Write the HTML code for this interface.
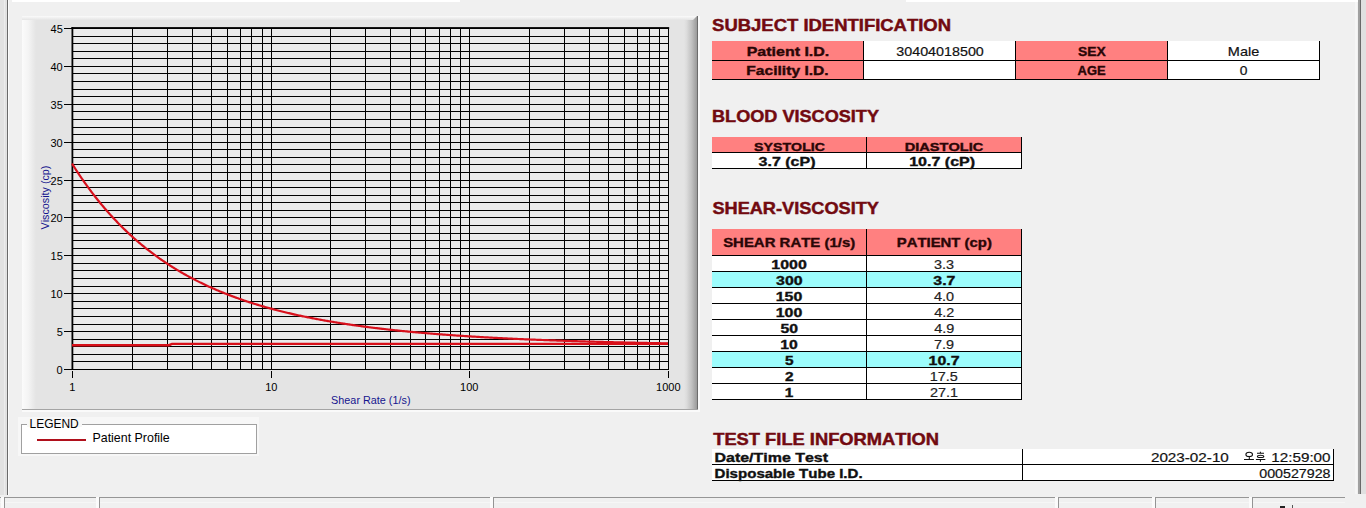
<!DOCTYPE html>
<html><head><meta charset="utf-8"><style>
html,body{margin:0;padding:0;width:1366px;height:508px;overflow:hidden;background:#f0f0f0}
svg{display:block}
text{font-family:"Liberation Sans",sans-serif;font-kerning:none;white-space:pre}
</style></head><body>
<svg width="1366" height="508" viewBox="0 0 1366 508">
<rect x="0" y="0" width="1366" height="508" fill="#f0f0f0" />
<rect x="0" y="0" width="7" height="495" fill="#e2e2e2" />
<rect x="4" y="0" width="1" height="495" fill="#ececec" />
<rect x="7" y="0" width="1" height="495" fill="#6a6a6a" />
<rect x="8" y="0" width="1" height="495" fill="#fcfcfc" />
<rect x="1355" y="0" width="2" height="494" fill="#f6f6f6" />
<rect x="1358" y="0" width="2" height="494" fill="#a0a0a0" />
<rect x="1360" y="0" width="1" height="494" fill="#696969" />
<rect x="1361" y="0" width="5" height="494" fill="#e0e0e0" />
<rect x="12" y="0" width="448" height="2" fill="#ffffff" />
<rect x="906" y="0" width="452" height="2" fill="#ffffff" />
<rect x="0" y="497" width="1366" height="11" fill="#f0f0f0" />
<rect x="0" y="497" width="1345" height="1" fill="#969696" />
<rect x="0" y="502" width="1345" height="1" fill="#f6f6f6" />
<rect x="1" y="497" width="3" height="11" fill="#fbfbfb" />
<rect x="4" y="497" width="1" height="11" fill="#949494" />
<rect x="96" y="497" width="3" height="11" fill="#fbfbfb" />
<rect x="99" y="497" width="1" height="11" fill="#949494" />
<rect x="490" y="497" width="3" height="11" fill="#fbfbfb" />
<rect x="493" y="497" width="1" height="11" fill="#949494" />
<rect x="1055" y="497" width="3" height="11" fill="#fbfbfb" />
<rect x="1058" y="497" width="1" height="11" fill="#949494" />
<rect x="1152" y="497" width="3" height="11" fill="#fbfbfb" />
<rect x="1155" y="497" width="1" height="11" fill="#949494" />
<rect x="1249" y="497" width="3" height="11" fill="#fbfbfb" />
<rect x="1252" y="497" width="1" height="11" fill="#949494" />
<rect x="22" y="16" width="676" height="394" fill="#e4e4e4" />
<defs><linearGradient id="gl" x1="0" x2="1"><stop offset="0" stop-color="#fbfbfb"/><stop offset="0.45" stop-color="#f4f4f4"/><stop offset="1" stop-color="#e4e4e4"/></linearGradient><linearGradient id="gr" x1="0" x2="1"><stop offset="0" stop-color="#e4e4e4"/><stop offset="0.2" stop-color="#dcdcdc"/><stop offset="0.6" stop-color="#c0c0c0"/><stop offset="1" stop-color="#9a9a9a"/></linearGradient><linearGradient id="gt" x1="0" x2="0" y1="0" y2="1"><stop offset="0" stop-color="#fafafa"/><stop offset="1" stop-color="#e4e4e4"/></linearGradient></defs>
<rect x="22" y="16" width="14" height="394" fill="url(#gl)" />
<rect x="684" y="16" width="13" height="394" fill="url(#gr)" />
<rect x="697" y="16" width="1" height="394" fill="#6c6c6c" />
<polygon points="22,16 697,16 693,20 22,20" fill="url(#gt)"/>
<rect x="22" y="409" width="676" height="1" fill="#a4a4a4" />
<rect x="698" y="16" width="2" height="396" fill="#fafafa" />
<rect x="22" y="410" width="678" height="2" fill="#fafafa" />
<rect x="72" y="28" width="596" height="341" fill="#eaeaea" />
<g fill="#000"><rect x="72" y="369" width="597" height="1"/><rect x="72" y="361" width="597" height="1"/><rect x="72" y="354" width="597" height="1"/><rect x="72" y="346" width="597" height="1"/><rect x="72" y="339" width="597" height="1"/><rect x="72" y="331" width="597" height="1"/><rect x="72" y="324" width="597" height="1"/><rect x="72" y="316" width="597" height="1"/><rect x="72" y="308" width="597" height="1"/><rect x="72" y="301" width="597" height="1"/><rect x="72" y="293" width="597" height="1"/><rect x="72" y="286" width="597" height="1"/><rect x="72" y="278" width="597" height="1"/><rect x="72" y="270" width="597" height="1"/><rect x="72" y="263" width="597" height="1"/><rect x="72" y="255" width="597" height="1"/><rect x="72" y="248" width="597" height="1"/><rect x="72" y="240" width="597" height="1"/><rect x="72" y="233" width="597" height="1"/><rect x="72" y="225" width="597" height="1"/><rect x="72" y="217" width="597" height="1"/><rect x="72" y="210" width="597" height="1"/><rect x="72" y="202" width="597" height="1"/><rect x="72" y="195" width="597" height="1"/><rect x="72" y="187" width="597" height="1"/><rect x="72" y="180" width="597" height="1"/><rect x="72" y="172" width="597" height="1"/><rect x="72" y="164" width="597" height="1"/><rect x="72" y="157" width="597" height="1"/><rect x="72" y="149" width="597" height="1"/><rect x="72" y="142" width="597" height="1"/><rect x="72" y="134" width="597" height="1"/><rect x="72" y="127" width="597" height="1"/><rect x="72" y="119" width="597" height="1"/><rect x="72" y="111" width="597" height="1"/><rect x="72" y="104" width="597" height="1"/><rect x="72" y="96" width="597" height="1"/><rect x="72" y="89" width="597" height="1"/><rect x="72" y="81" width="597" height="1"/><rect x="72" y="73" width="597" height="1"/><rect x="72" y="66" width="597" height="1"/><rect x="72" y="58" width="597" height="1"/><rect x="72" y="51" width="597" height="1"/><rect x="72" y="43" width="597" height="1"/><rect x="72" y="36" width="597" height="1"/><rect x="72" y="28" width="597" height="1"/><rect x="72" y="28" width="1" height="342"/><rect x="132" y="28" width="1" height="342"/><rect x="167" y="28" width="1" height="342"/><rect x="192" y="28" width="1" height="342"/><rect x="211" y="28" width="1" height="342"/><rect x="227" y="28" width="1" height="342"/><rect x="240" y="28" width="1" height="342"/><rect x="251" y="28" width="1" height="342"/><rect x="262" y="28" width="1" height="342"/><rect x="271" y="28" width="1" height="342"/><rect x="330" y="28" width="1" height="342"/><rect x="365" y="28" width="1" height="342"/><rect x="390" y="28" width="1" height="342"/><rect x="410" y="28" width="1" height="342"/><rect x="425" y="28" width="1" height="342"/><rect x="439" y="28" width="1" height="342"/><rect x="450" y="28" width="1" height="342"/><rect x="460" y="28" width="1" height="342"/><rect x="469" y="28" width="1" height="342"/><rect x="529" y="28" width="1" height="342"/><rect x="564" y="28" width="1" height="342"/><rect x="589" y="28" width="1" height="342"/><rect x="608" y="28" width="1" height="342"/><rect x="624" y="28" width="1" height="342"/><rect x="637" y="28" width="1" height="342"/><rect x="649" y="28" width="1" height="342"/><rect x="659" y="28" width="1" height="342"/><rect x="668" y="28" width="1" height="342"/><rect x="71.5" y="27" width="1.8" height="343"/><rect x="71.5" y="27.1" width="597.7" height="1.8"/><rect x="64" y="369" width="8" height="1"/><rect x="64" y="331" width="8" height="1"/><rect x="64" y="293" width="8" height="1"/><rect x="64" y="255" width="8" height="1"/><rect x="64" y="217" width="8" height="1"/><rect x="64" y="180" width="8" height="1"/><rect x="64" y="142" width="8" height="1"/><rect x="64" y="104" width="8" height="1"/><rect x="64" y="66" width="8" height="1"/><rect x="64" y="28" width="8" height="1"/><rect x="72" y="371" width="1" height="7"/><rect x="271" y="371" width="1" height="7"/><rect x="469" y="371" width="1" height="7"/><rect x="668" y="371" width="1" height="7"/></g>
<polyline points="72.0,163.54 73.0,165.13 74.0,166.70 75.0,168.26 76.0,169.80 77.0,171.33 78.0,172.84 79.0,174.34 80.0,175.83 81.0,177.30 82.0,178.75 83.0,180.20 84.0,181.62 85.0,183.04 86.0,184.44 87.0,185.83 88.0,187.20 89.0,188.56 90.0,189.91 91.0,191.25 92.0,192.57 93.0,193.88 94.0,195.18 95.0,196.47 96.0,197.74 97.0,199.00 98.0,200.25 99.0,201.49 100.0,202.71 101.0,203.93 102.0,205.13 103.0,206.32 104.0,207.50 105.0,208.67 106.0,209.83 107.0,210.98 108.0,212.11 109.0,213.24 110.0,214.36 111.0,215.46 112.0,216.56 113.0,217.64 114.0,218.71 115.0,219.78 116.0,220.83 117.0,221.88 118.0,222.91 119.0,223.94 120.0,224.95 121.0,225.96 122.0,226.96 123.0,227.95 124.0,228.92 125.0,229.89 126.0,230.85 127.0,231.81 128.0,232.75 129.0,233.68 130.0,234.61 131.0,235.53 132.0,236.43 133.0,237.33 134.0,238.23 135.0,239.11 136.0,239.99 137.0,240.85 138.0,241.71 139.0,242.57 140.0,243.41 141.0,244.25 142.0,245.08 143.0,245.90 144.0,246.71 145.0,247.52 146.0,248.32 147.0,249.11 148.0,249.89 149.0,250.67 150.0,251.44 151.0,252.21 152.0,252.96 153.0,253.71 154.0,254.46 155.0,255.19 156.0,255.92 157.0,256.64 158.0,257.36 159.0,258.07 160.0,258.78 161.0,259.47 162.0,260.17 163.0,260.85 164.0,261.53 165.0,262.20 166.0,262.87 167.0,263.53 168.0,264.19 169.0,264.84 170.0,265.48 171.0,266.12 172.0,266.75 173.0,267.38 174.0,268.00 175.0,268.61 176.0,269.22 177.0,269.83 178.0,270.43 179.0,271.02 180.0,271.61 181.0,272.19 182.0,272.77 183.0,273.35 184.0,273.92 185.0,274.48 186.0,275.04 187.0,275.59 188.0,276.14 189.0,276.68 190.0,277.22 191.0,277.76 192.0,278.29 193.0,278.81 194.0,279.33 195.0,279.85 196.0,280.36 197.0,280.87 198.0,281.37 199.0,281.87 200.0,282.37 201.0,282.86 202.0,283.34 203.0,283.82 204.0,284.30 205.0,284.78 206.0,285.25 207.0,285.71 208.0,286.17 209.0,286.63 210.0,287.08 211.0,287.53 212.0,287.98 213.0,288.42 214.0,288.86 215.0,289.29 216.0,289.72 217.0,290.15 218.0,290.57 219.0,290.99 220.0,291.41 221.0,291.82 222.0,292.23 223.0,292.64 224.0,293.04 225.0,293.44 226.0,293.84 227.0,294.23 228.0,294.62 229.0,295.00 230.0,295.39 231.0,295.77 232.0,296.14 233.0,296.52 234.0,296.89 235.0,297.25 236.0,297.62 237.0,297.98 238.0,298.34 239.0,298.69 240.0,299.04 241.0,299.39 242.0,299.74 243.0,300.08 244.0,300.42 245.0,300.76 246.0,301.09 247.0,301.43 248.0,301.76 249.0,302.08 250.0,302.41 251.0,302.73 252.0,303.05 253.0,303.36 254.0,303.68 255.0,303.99 256.0,304.29 257.0,304.60 258.0,304.90 259.0,305.20 260.0,305.50 261.0,305.80 262.0,306.09 263.0,306.38 264.0,306.67 265.0,306.96 266.0,307.24 267.0,307.52 268.0,307.80 269.0,308.08 270.0,308.36 271.0,308.63 272.0,308.90 273.0,309.17 274.0,309.44 275.0,309.70 276.0,309.96 277.0,310.22 278.0,310.48 279.0,310.74 280.0,310.99 281.0,311.24 282.0,311.49 283.0,311.74 284.0,311.98 285.0,312.23 286.0,312.47 287.0,312.71 288.0,312.95 289.0,313.18 290.0,313.42 291.0,313.65 292.0,313.88 293.0,314.11 294.0,314.34 295.0,314.56 296.0,314.79 297.0,315.01 298.0,315.23 299.0,315.45 300.0,315.66 301.0,315.88 302.0,316.09 303.0,316.30 304.0,316.51 305.0,316.72 306.0,316.93 307.0,317.13 308.0,317.34 309.0,317.54 310.0,317.74 311.0,317.94 312.0,318.13 313.0,318.33 314.0,318.52 315.0,318.72 316.0,318.91 317.0,319.10 318.0,319.29 319.0,319.47 320.0,319.66 321.0,319.84 322.0,320.03 323.0,320.21 324.0,320.39 325.0,320.56 326.0,320.74 327.0,320.92 328.0,321.09 329.0,321.27 330.0,321.44 331.0,321.61 332.0,321.78 333.0,321.94 334.0,322.11 335.0,322.28 336.0,322.44 337.0,322.60 338.0,322.76 339.0,322.93 340.0,323.08 341.0,323.24 342.0,323.40 343.0,323.55 344.0,323.71 345.0,323.86 346.0,324.01 347.0,324.17 348.0,324.32 349.0,324.46 350.0,324.61 351.0,324.76 352.0,324.90 353.0,325.05 354.0,325.19 355.0,325.33 356.0,325.47 357.0,325.61 358.0,325.75 359.0,325.89 360.0,326.03 361.0,326.17 362.0,326.30 363.0,326.43 364.0,326.57 365.0,326.70 366.0,326.83 367.0,326.96 368.0,327.09 369.0,327.22 370.0,327.35 371.0,327.47 372.0,327.60 373.0,327.72 374.0,327.85 375.0,327.97 376.0,328.09 377.0,328.21 378.0,328.33 379.0,328.45 380.0,328.57 381.0,328.69 382.0,328.80 383.0,328.92 384.0,329.03 385.0,329.15 386.0,329.26 387.0,329.37 388.0,329.48 389.0,329.59 390.0,329.70 391.0,329.81 392.0,329.92 393.0,330.03 394.0,330.14 395.0,330.24 396.0,330.35 397.0,330.45 398.0,330.56 399.0,330.66 400.0,330.76 401.0,330.86 402.0,330.97 403.0,331.07 404.0,331.17 405.0,331.26 406.0,331.36 407.0,331.46 408.0,331.56 409.0,331.65 410.0,331.75 411.0,331.84 412.0,331.94 413.0,332.03 414.0,332.12 415.0,332.21 416.0,332.31 417.0,332.40 418.0,332.49 419.0,332.58 420.0,332.66 421.0,332.75 422.0,332.84 423.0,332.93 424.0,333.01 425.0,333.10 426.0,333.18 427.0,333.27 428.0,333.35 429.0,333.44 430.0,333.52 431.0,333.60 432.0,333.68 433.0,333.76 434.0,333.85 435.0,333.93 436.0,334.00 437.0,334.08 438.0,334.16 439.0,334.24 440.0,334.32 441.0,334.39 442.0,334.47 443.0,334.55 444.0,334.62 445.0,334.70 446.0,334.77 447.0,334.84 448.0,334.92 449.0,334.99 450.0,335.06 451.0,335.13 452.0,335.20 453.0,335.27 454.0,335.34 455.0,335.41 456.0,335.48 457.0,335.55 458.0,335.62 459.0,335.69 460.0,335.75 461.0,335.82 462.0,335.89 463.0,335.95 464.0,336.02 465.0,336.08 466.0,336.15 467.0,336.21 468.0,336.28 469.0,336.34 470.0,336.40 471.0,336.47 472.0,336.53 473.0,336.59 474.0,336.65 475.0,336.71 476.0,336.77 477.0,336.83 478.0,336.89 479.0,336.95 480.0,337.01 481.0,337.07 482.0,337.13 483.0,337.18 484.0,337.24 485.0,337.30 486.0,337.35 487.0,337.41 488.0,337.47 489.0,337.52 490.0,337.58 491.0,337.63 492.0,337.68 493.0,337.74 494.0,337.79 495.0,337.85 496.0,337.90 497.0,337.95 498.0,338.00 499.0,338.05 500.0,338.11 501.0,338.16 502.0,338.21 503.0,338.26 504.0,338.31 505.0,338.36 506.0,338.41 507.0,338.46 508.0,338.51 509.0,338.55 510.0,338.60 511.0,338.65 512.0,338.70 513.0,338.74 514.0,338.79 515.0,338.84 516.0,338.88 517.0,338.93 518.0,338.98 519.0,339.02 520.0,339.07 521.0,339.11 522.0,339.16 523.0,339.20 524.0,339.24 525.0,339.29 526.0,339.33 527.0,339.37 528.0,339.42 529.0,339.46 530.0,339.50 531.0,339.54 532.0,339.58 533.0,339.63 534.0,339.67 535.0,339.71 536.0,339.75 537.0,339.79 538.0,339.83 539.0,339.87 540.0,339.91 541.0,339.95 542.0,339.99 543.0,340.02 544.0,340.06 545.0,340.10 546.0,340.14 547.0,340.18 548.0,340.21 549.0,340.25 550.0,340.29 551.0,340.33 552.0,340.36 553.0,340.40 554.0,340.44 555.0,340.47 556.0,340.51 557.0,340.54 558.0,340.58 559.0,340.61 560.0,340.65 561.0,340.68 562.0,340.72 563.0,340.75 564.0,340.78 565.0,340.82 566.0,340.85 567.0,340.88 568.0,340.92 569.0,340.95 570.0,340.98 571.0,341.01 572.0,341.05 573.0,341.08 574.0,341.11 575.0,341.14 576.0,341.17 577.0,341.20 578.0,341.24 579.0,341.27 580.0,341.30 581.0,341.33 582.0,341.36 583.0,341.39 584.0,341.42 585.0,341.45 586.0,341.48 587.0,341.51 588.0,341.53 589.0,341.56 590.0,341.59 591.0,341.62 592.0,341.65 593.0,341.68 594.0,341.71 595.0,341.73 596.0,341.76 597.0,341.79 598.0,341.82 599.0,341.84 600.0,341.87 601.0,341.90 602.0,341.92 603.0,341.95 604.0,341.98 605.0,342.00 606.0,342.03 607.0,342.05 608.0,342.08 609.0,342.10 610.0,342.13 611.0,342.15 612.0,342.18 613.0,342.20 614.0,342.23 615.0,342.25 616.0,342.28 617.0,342.30 618.0,342.33 619.0,342.35 620.0,342.37 621.0,342.40 622.0,342.42 623.0,342.44 624.0,342.47 625.0,342.49 626.0,342.51 627.0,342.54 628.0,342.56 629.0,342.58 630.0,342.60 631.0,342.63 632.0,342.65 633.0,342.67 634.0,342.69 635.0,342.71 636.0,342.73 637.0,342.76 638.0,342.78 639.0,342.80 640.0,342.82 641.0,342.84 642.0,342.86 643.0,342.88 644.0,342.90 645.0,342.92 646.0,342.94 647.0,342.96 648.0,342.98 649.0,343.00 650.0,343.02 651.0,343.04 652.0,343.06 653.0,343.08 654.0,343.10 655.0,343.12 656.0,343.14 657.0,343.16 658.0,343.18 659.0,343.19 660.0,343.21 661.0,343.23 662.0,343.25 663.0,343.27 664.0,343.29 665.0,343.30 666.0,343.32 667.0,343.34 668.0,343.36" fill="none" stroke="#d8101c" stroke-width="2.2" stroke-linejoin="round"/>
<polyline points="72,345.2 169,345.2 172,343.9 668,343.9" fill="none" stroke="#d80f18" stroke-width="2.4"/>
<text transform="translate(56.61,373.60) scale(1.0000,1)" font-weight="normal" font-size="11" fill="#000" >0</text>
<text transform="translate(56.64,335.60) scale(1.0000,1)" font-weight="normal" font-size="11" fill="#000" >5</text>
<text transform="translate(50.49,297.60) scale(1.0000,1)" font-weight="normal" font-size="11" fill="#000" >10</text>
<text transform="translate(50.53,259.60) scale(1.0000,1)" font-weight="normal" font-size="11" fill="#000" >15</text>
<text transform="translate(50.49,221.60) scale(1.0000,1)" font-weight="normal" font-size="11" fill="#000" >20</text>
<text transform="translate(50.53,184.60) scale(1.0000,1)" font-weight="normal" font-size="11" fill="#000" >25</text>
<text transform="translate(50.49,146.60) scale(1.0000,1)" font-weight="normal" font-size="11" fill="#000" >30</text>
<text transform="translate(50.53,108.60) scale(1.0000,1)" font-weight="normal" font-size="11" fill="#000" >35</text>
<text transform="translate(50.49,70.60) scale(1.0000,1)" font-weight="normal" font-size="11" fill="#000" >40</text>
<text transform="translate(50.53,32.60) scale(1.0000,1)" font-weight="normal" font-size="11" fill="#000" >45</text>
<text transform="translate(69.29,391.00) scale(1.0000,1)" font-weight="normal" font-size="11" fill="#000" >1</text>
<text transform="translate(265.18,391.00) scale(1.0000,1)" font-weight="normal" font-size="11" fill="#000" >10</text>
<text transform="translate(460.12,391.00) scale(1.0000,1)" font-weight="normal" font-size="11" fill="#000" >100</text>
<text transform="translate(656.06,391.00) scale(1.0000,1)" font-weight="normal" font-size="11" fill="#000" >1000</text>
<text transform="translate(331.11,403.50) scale(0.9847,1)" font-weight="normal" font-size="11" fill="#14148e" >Shear Rate (1/s)</text>
<text transform="translate(48.6,229.45) rotate(-90) scale(0.9773,1)" font-size="11" fill="#14148e">Viscosity (cp)</text>
<rect x="18" y="417" width="241" height="39" fill="#f7f7f7" />
<rect x="21.5" y="424.5" width="235" height="29" fill="#ffffff" stroke="#a0a0a0" stroke-width="1"/>
<rect x="27" y="422" width="55" height="5" fill="#f7f7f7" />
<text transform="translate(29.52,427.60) scale(0.9214,1)" font-weight="normal" font-size="13" fill="#000" >LEGEND</text>
<rect x="37" y="439" width="49" height="2" fill="#b0101c" />
<text transform="translate(92.48,441.60) scale(0.9560,1)" font-weight="normal" font-size="13" fill="#000" >Patient Profile</text>
<text transform="translate(712.09,31.00) scale(1.1550,1)" font-weight="bold" font-size="16" fill="#720a10" stroke="#720a10" stroke-width="0.45" >SUBJECT IDENTIFICATION</text>
<rect x="712" y="41" width="151" height="38" fill="#ff8080" />
<rect x="864" y="41" width="151" height="38" fill="#fff" />
<rect x="1016" y="41" width="151" height="38" fill="#ff8080" />
<rect x="1168" y="41" width="152" height="38" fill="#fff" />
<rect x="712" y="60" width="608" height="1" fill="#000" />
<rect x="712" y="79" width="608" height="1" fill="#000" />
<rect x="863" y="41" width="1" height="39" fill="#000" />
<rect x="1015" y="41" width="1" height="39" fill="#000" />
<rect x="1167" y="41" width="1" height="39" fill="#000" />
<rect x="1319" y="41" width="1" height="39" fill="#000" />
<text transform="translate(746.70,55.70) scale(1.3340,1)" font-weight="bold" font-size="12" fill="#2a0606" stroke="#2a0606" stroke-width="0.35" >Patient I.D.</text>
<text transform="translate(746.33,74.70) scale(1.3018,1)" font-weight="bold" font-size="12" fill="#2a0606" stroke="#2a0606" stroke-width="0.35" >Facility I.D.</text>
<text transform="translate(896.25,55.70) scale(1.1933,1)" font-weight="normal" font-size="12" fill="#111" stroke="#111" stroke-width="0.18" >30404018500</text>
<text transform="translate(1077.98,55.70) scale(1.1566,1)" font-weight="bold" font-size="12" fill="#2a0606" stroke="#2a0606" stroke-width="0.35" >SEX</text>
<text transform="translate(1077.55,75.00) scale(1.0798,1)" font-weight="bold" font-size="12" fill="#2a0606" stroke="#2a0606" stroke-width="0.35" >AGE</text>
<text transform="translate(1227.81,55.70) scale(1.2085,1)" font-weight="normal" font-size="12" fill="#111" stroke="#111" stroke-width="0.18" >Male</text>
<text transform="translate(1239.86,75.00) scale(1.1506,1)" font-weight="normal" font-size="12" fill="#111" stroke="#111" stroke-width="0.18" >0</text>
<text transform="translate(712.01,122.00) scale(1.1320,1)" font-weight="bold" font-size="16" fill="#720a10" stroke="#720a10" stroke-width="0.45" >BLOOD VISCOSITY</text>
<rect x="712" y="137" width="309" height="15" fill="#ff8080" />
<rect x="712" y="153" width="309" height="15" fill="#fff" />
<rect x="712" y="152" width="310" height="1" fill="#000" />
<rect x="712" y="168" width="310" height="1" fill="#000" />
<rect x="866" y="137" width="1" height="32" fill="#000" />
<rect x="1021" y="137" width="1" height="32" fill="#000" />
<text transform="translate(754.07,150.70) scale(1.2898,1)" font-weight="bold" font-size="11" fill="#2a0606" stroke="#2a0606" stroke-width="0.35" >SYSTOLIC</text>
<text transform="translate(904.70,150.80) scale(1.3282,1)" font-weight="bold" font-size="11" fill="#2a0606" stroke="#2a0606" stroke-width="0.35" >DIASTOLIC</text>
<text transform="translate(758.61,166.40) scale(1.3333,1)" font-weight="bold" font-size="12" fill="#111" stroke="#111" stroke-width="0.35" >3.7 (cP)</text>
<text transform="translate(909.16,166.40) scale(1.3384,1)" font-weight="bold" font-size="12" fill="#111" stroke="#111" stroke-width="0.35" >10.7 (cP)</text>
<text transform="translate(712.40,214.00) scale(1.1362,1)" font-weight="bold" font-size="16" fill="#720a10" stroke="#720a10" stroke-width="0.45" >SHEAR-VISCOSITY</text>
<rect x="712" y="229" width="309" height="26" fill="#ff8080" />
<rect x="712" y="255" width="310" height="1" fill="#000" />
<rect x="866" y="229" width="1" height="171" fill="#000" />
<rect x="1021" y="229" width="1" height="171" fill="#000" />
<text transform="translate(723.14,247.00) scale(1.2473,1)" font-weight="bold" font-size="12" fill="#2a0606" stroke="#2a0606" stroke-width="0.35" >SHEAR RATE (1/s)</text>
<text transform="translate(896.78,246.80) scale(1.2416,1)" font-weight="bold" font-size="12" fill="#2a0606" stroke="#2a0606" stroke-width="0.35" >PATIENT (cp)</text>
<rect x="712" y="256" width="309" height="15" fill="#fff" />
<rect x="867" y="256" width="154" height="15" fill="#fff" />
<rect x="712" y="271" width="310" height="1" fill="#000" />
<rect x="866" y="256" width="1" height="16" fill="#000" />
<text transform="translate(771.27,268.80) scale(1.3302,1)" font-weight="bold" font-size="12" fill="#111" stroke="#111" stroke-width="0.35" >1000</text>
<text transform="translate(934.00,268.80) scale(1.2040,1)" font-weight="normal" font-size="12" fill="#222" stroke="#222" stroke-width="0.18" >3.3</text>
<rect x="712" y="272" width="309" height="15" fill="#9cfcfc" />
<rect x="867" y="272" width="154" height="15" fill="#9cfcfc" />
<rect x="712" y="287" width="310" height="1" fill="#000" />
<rect x="866" y="272" width="1" height="16" fill="#000" />
<text transform="translate(776.07,284.80) scale(1.3258,1)" font-weight="bold" font-size="12" fill="#111" stroke="#111" stroke-width="0.35" >300</text>
<text transform="translate(933.34,284.80) scale(1.3219,1)" font-weight="bold" font-size="12" fill="#111" stroke="#111" stroke-width="0.35" >3.7</text>
<rect x="712" y="288" width="309" height="15" fill="#fff" />
<rect x="867" y="288" width="154" height="15" fill="#fff" />
<rect x="712" y="303" width="310" height="1" fill="#000" />
<rect x="866" y="288" width="1" height="16" fill="#000" />
<text transform="translate(775.76,300.80) scale(1.3253,1)" font-weight="bold" font-size="12" fill="#111" stroke="#111" stroke-width="0.35" >150</text>
<text transform="translate(934.07,300.80) scale(1.2040,1)" font-weight="normal" font-size="12" fill="#222" stroke="#222" stroke-width="0.18" >4.0</text>
<rect x="712" y="304" width="309" height="15" fill="#fff" />
<rect x="867" y="304" width="154" height="15" fill="#fff" />
<rect x="712" y="319" width="310" height="1" fill="#000" />
<rect x="866" y="304" width="1" height="16" fill="#000" />
<text transform="translate(775.76,316.80) scale(1.3253,1)" font-weight="bold" font-size="12" fill="#111" stroke="#111" stroke-width="0.35" >100</text>
<text transform="translate(934.15,316.80) scale(1.2040,1)" font-weight="normal" font-size="12" fill="#222" stroke="#222" stroke-width="0.18" >4.2</text>
<rect x="712" y="320" width="309" height="15" fill="#fff" />
<rect x="867" y="320" width="154" height="15" fill="#fff" />
<rect x="712" y="335" width="310" height="1" fill="#000" />
<rect x="866" y="320" width="1" height="16" fill="#000" />
<text transform="translate(780.50,332.80) scale(1.3159,1)" font-weight="bold" font-size="12" fill="#111" stroke="#111" stroke-width="0.35" >50</text>
<text transform="translate(934.13,332.80) scale(1.2040,1)" font-weight="normal" font-size="12" fill="#222" stroke="#222" stroke-width="0.18" >4.9</text>
<rect x="712" y="336" width="309" height="15" fill="#fff" />
<rect x="867" y="336" width="154" height="15" fill="#fff" />
<rect x="712" y="351" width="310" height="1" fill="#000" />
<rect x="866" y="336" width="1" height="16" fill="#000" />
<text transform="translate(780.25,348.80) scale(1.3150,1)" font-weight="bold" font-size="12" fill="#111" stroke="#111" stroke-width="0.35" >10</text>
<text transform="translate(933.93,348.80) scale(1.2040,1)" font-weight="normal" font-size="12" fill="#222" stroke="#222" stroke-width="0.18" >7.9</text>
<rect x="712" y="352" width="309" height="15" fill="#9cfcfc" />
<rect x="867" y="352" width="154" height="15" fill="#9cfcfc" />
<rect x="712" y="367" width="310" height="1" fill="#000" />
<rect x="866" y="352" width="1" height="16" fill="#000" />
<text transform="translate(784.89,364.80) scale(1.2853,1)" font-weight="bold" font-size="12" fill="#111" stroke="#111" stroke-width="0.35" >5</text>
<text transform="translate(928.54,364.80) scale(1.3281,1)" font-weight="bold" font-size="12" fill="#111" stroke="#111" stroke-width="0.35" >10.7</text>
<rect x="712" y="368" width="309" height="15" fill="#fff" />
<rect x="867" y="368" width="154" height="15" fill="#fff" />
<rect x="712" y="383" width="310" height="1" fill="#000" />
<rect x="866" y="368" width="1" height="16" fill="#000" />
<text transform="translate(784.96,380.80) scale(1.2834,1)" font-weight="bold" font-size="12" fill="#111" stroke="#111" stroke-width="0.35" >2</text>
<text transform="translate(929.69,380.80) scale(1.2040,1)" font-weight="normal" font-size="12" fill="#222" stroke="#222" stroke-width="0.18" >17.5</text>
<rect x="712" y="384" width="309" height="15" fill="#fff" />
<rect x="867" y="384" width="154" height="15" fill="#fff" />
<rect x="712" y="399" width="310" height="1" fill="#000" />
<rect x="866" y="384" width="1" height="16" fill="#000" />
<text transform="translate(784.65,396.80) scale(1.2813,1)" font-weight="bold" font-size="12" fill="#111" stroke="#111" stroke-width="0.35" >1</text>
<text transform="translate(929.93,396.80) scale(1.2040,1)" font-weight="normal" font-size="12" fill="#222" stroke="#222" stroke-width="0.18" >27.1</text>
<text transform="translate(713.22,444.80) scale(1.1458,1)" font-weight="bold" font-size="16" fill="#720a10" stroke="#720a10" stroke-width="0.45" >TEST FILE INFORMATION</text>
<rect x="712" y="449" width="622" height="31" fill="#fff" />
<rect x="712" y="464" width="622" height="1" fill="#000" />
<rect x="712" y="480" width="622" height="1" fill="#000" />
<rect x="1022" y="449" width="1" height="32" fill="#000" />
<rect x="1333" y="449" width="1" height="32" fill="#000" />
<text transform="translate(714.51,461.80) scale(1.3310,1)" font-weight="bold" font-size="12" fill="#111" stroke="#111" stroke-width="0.35" >Date/Time Test</text>
<text transform="translate(714.57,477.80) scale(1.2548,1)" font-weight="bold" font-size="12" fill="#111" stroke="#111" stroke-width="0.35" >Disposable Tube I.D.</text>
<text transform="translate(1150.93,462.00) scale(1.2701,1)" font-weight="normal" font-size="12" fill="#111" stroke="#111" stroke-width="0.18" >2023-02-10</text>
<text transform="translate(1271.34,462.00) scale(1.2685,1)" font-weight="normal" font-size="12" fill="#111" stroke="#111" stroke-width="0.18" >12:59:00</text>
<text transform="translate(1259.24,477.80) scale(1.1883,1)" font-weight="normal" font-size="12" fill="#111" stroke="#111" stroke-width="0.18" >000527928</text>
<g fill="none" stroke="#111" stroke-width="1.05"><ellipse cx="1249.2" cy="454.4" rx="3.3" ry="2.1"/><path d="M1249.3 456.5v2.8 M1244 459.4h9.9"/><path d="M1260.4 451.7v1.2 M1257 453.3h7 M1255.9 459.5h9.4 M1260.4 459.5v2.2"/><ellipse cx="1260.6" cy="456.4" rx="3.2" ry="1.15"/></g>
<rect x="1280" y="506" width="5" height="2" fill="#222" />
<rect x="1292" y="505" width="1" height="3" fill="#555" />
</svg></body></html>
